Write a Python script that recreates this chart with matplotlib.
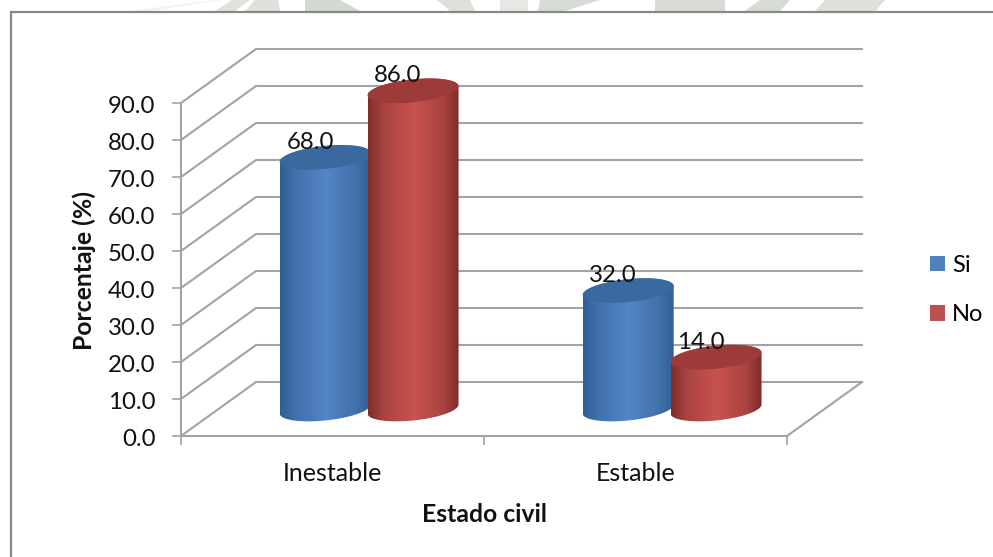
import numpy as np
import matplotlib
matplotlib.use('Agg')
import matplotlib.pyplot as plt
from matplotlib.colors import LinearSegmentedColormap
from matplotlib.patches import Patch, Polygon, Rectangle
from matplotlib.transforms import ScaledTranslation

categories = ['Inestable', 'Estable']
series_names = ['Si', 'No']
si_values = [68.0, 32.0]
no_values = [86.0, 14.0]
y_ticks = [0, 10, 20, 30, 40, 50, 60, 70, 80, 90]

W, H = 993, 557
plt.rcParams['font.family'] = ['Lato', 'DejaVu Sans']
GRID = '#a3a3a3'
FS = 17.3
FS_CAT = 18
FS_BOLD = 17.8

# pale scraps of the page watermark above the frame (x top, x top, x bottom, x bottom, colour)
watermark = [(215, 222, 130, 150, '#f1f3ef'), (232, 250, 215, 235, '#dfe3dc'), (255, 278, 245, 280, '#dde1da'),
             (305, 340, 305, 360, '#d3d8d0'), (437, 470, 450, 475, '#dde1da'), (500, 528, 500, 528, '#e6e9e4'),
             (540, 600, 538, 565, '#d6dbd3'), (655, 725, 655, 725, '#d8dcd5'), (760, 790, 745, 780, '#d6dbd3'),
             (825, 885, 815, 875, '#dde1da')]


def px_box(x0, y0, x1, y1):
    # pixel box (top-left origin) to figure fractions
    return [x0 / W, 1 - y1 / H, (x1 - x0) / W, (y1 - y0) / H]


fig = plt.figure(figsize=(W / 100, H / 100), dpi=100, facecolor='white')

bg = fig.add_axes([0, 0, 1, 1])
bg.set_xlim(0, W)
bg.set_ylim(H, 0)
bg.axis('off')
for a, b, c, d, col in watermark:
    bg.add_patch(Polygon([(a, 0), (b, 0), (d, 11), (c, 11)], facecolor=col, edgecolor='none'))
bg.add_patch(Rectangle((11, 12), W + 20, H + 20, facecolor='white', edgecolor='#888888', lw=1.6))

# axes frame is the front plane of the 3D box
ax = fig.add_axes(px_box(181, 103, 787, 436))
ax.patch.set_alpha(0)
ax.set_xlim(0, 2)
ax.set_ylim(0, 90)
PX_X = 2 / 606   # data units per pixel
PX_Y = 90 / 333
DX, DY = 75 * PX_X, 54 * PX_Y

for s in ['top', 'right']:
    ax.spines[s].set_visible(False)
for s in ['left', 'bottom']:
    ax.spines[s].set_color(GRID)
    ax.spines[s].set_linewidth(1.5)

ax.set_yticks(y_ticks)
ax.set_yticklabels(['%.1f' % v for v in y_ticks], fontsize=FS, color='#111111')
ax.tick_params(axis='y', length=6.5, width=1.2, color=GRID, pad=12)
# nudge the value labels down a little
nudge = ScaledTranslation(0, -1.5 / 100, fig.dpi_scale_trans)
for lab in ax.get_yticklabels():
    lab.set_transform(lab.get_transform() + nudge)
ax.set_xticks([0, 1, 2])
ax.set_xticklabels([])
ax.tick_params(axis='x', which='major', length=6.5, width=1.2, color=GRID)
ax.set_xticks([0.5, 1.5], minor=True)
ax.set_xticklabels(categories, minor=True, fontsize=FS_CAT, color='#111111')
ax.tick_params(axis='x', which='minor', length=0, pad=19)

# walls
for v in y_ticks:
    ax.plot([0, DX, 2 + DX], [v, v + DY, v + DY], color=GRID, lw=1.5, clip_on=False, zorder=1,
            solid_joinstyle='miter')
ax.plot([2, 2 + DX], [0, DY], color=GRID, lw=1.5, clip_on=False, zorder=1)

blue_map = LinearSegmentedColormap.from_list('b', ['#2f5d94', '#4072ab', '#4a7bb8', '#5386c8', '#4a7bb8', '#4072ab', '#325f96'])
red_map = LinearSegmentedColormap.from_list('r', ['#7e2d2b', '#a84340', '#b94b48', '#c9524f', '#b94b48', '#a84340', '#7c2c2a'])
BAR_A, BAR_B, BAR_S = 45.5 * PX_X, 11.5 * PX_Y, 4.5 * PX_Y
offsets = [0.352, 0.642]
grad = np.linspace(0, 1, 256).reshape(1, -1)


def rim(cx, y, t):
    return np.column_stack([cx + BAR_A * np.cos(t), y + BAR_B * np.sin(t) + BAR_S * np.cos(t)])


def cylinder(cx, value, cmap, top_col, z):
    base = DY / 2
    top = value + DY / 2
    t = np.linspace(0, np.pi, 60)
    outline = np.vstack([rim(cx, top, t), rim(cx, base, t + np.pi)])
    body = Polygon(outline, closed=True, facecolor='none', edgecolor='none', clip_on=False, zorder=z)
    ax.add_patch(body)
    im = ax.imshow(grad, cmap=cmap, aspect='auto', zorder=z, extent=[cx - BAR_A, cx + BAR_A, -10, 125])
    im.set_clip_box(fig.bbox)
    im.set_clip_path(body)
    cap = Polygon(rim(cx, top, np.linspace(0, 2 * np.pi, 120)), closed=True, facecolor=top_col, edgecolor='none',
                  clip_on=False, zorder=z + 0.1)
    ax.add_patch(cap)
    ax.annotate('%.1f' % value, (cx, top), xytext=(-15 * 0.72, 15 * 0.72), textcoords='offset points',
                ha='center', va='center', fontsize=FS, color='#111111', zorder=z + 1, annotation_clip=False)


for i in range(len(categories)):
    cylinder(i + offsets[0] + DX / 2, si_values[i], blue_map, '#3a699f', 3 + i)
    cylinder(i + offsets[1] + DX / 2, no_values[i], red_map, '#9c3b39', 3.5 + i)

ax.set_xlim(0, 2)
ax.set_ylim(0, 90)

fig.text(84 / W, 1 - 270 / H, 'Porcentaje (%)', rotation=90, ha='center', va='center', fontsize=FS_BOLD, fontweight='bold', color='#111111')
fig.text(484 / W, 1 - 515 / H, 'Estado civil', ha='center', va='center', fontsize=FS_BOLD, fontweight='bold', color='#111111')

handles = [Patch(facecolor='#4f81bd', label=series_names[0]), Patch(facecolor='#c0504d', label=series_names[1])]
fig.legend(handles=handles, loc='center left', bbox_to_anchor=(930 / W, 1 - 290 / H), frameon=False, fontsize=17,
           handlelength=0.62, handleheight=0.62, handletextpad=0.3, labelspacing=1.2, borderpad=0, borderaxespad=0)

fig.savefig('out.png', dpi=100)
